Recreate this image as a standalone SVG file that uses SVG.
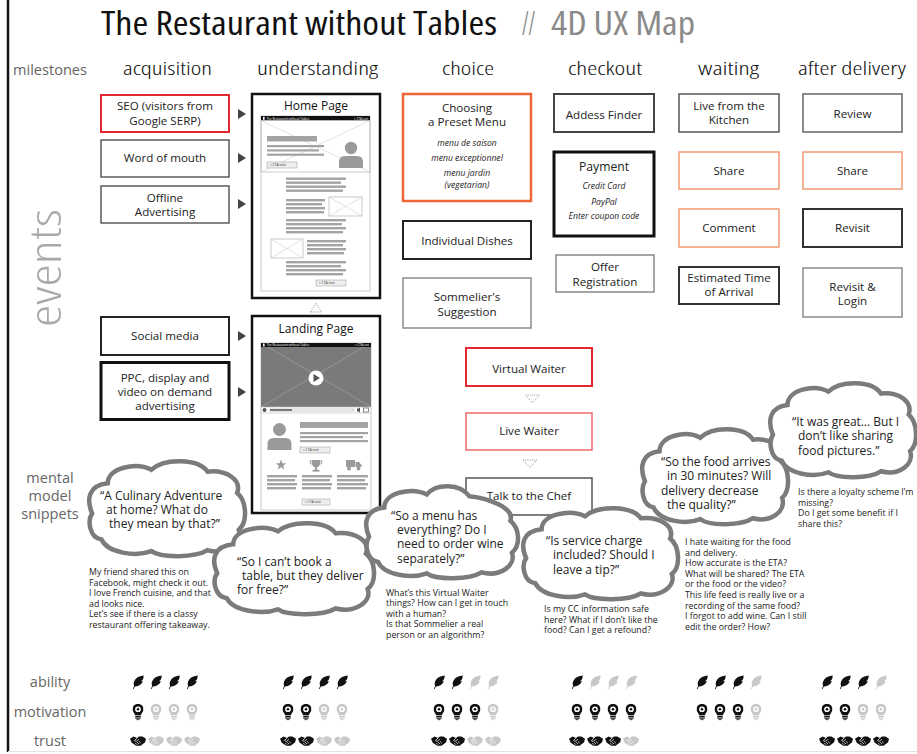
<svg xmlns="http://www.w3.org/2000/svg" width="917" height="754" viewBox="0 0 917 754">
<defs>
<style>
  text { font-family: "Open Sans", "DejaVu Sans", sans-serif; fill: #222; }
  .title { font-size: 32px; fill: #111; font-stretch: 87.5%; }
  .title-sub { font-size: 32px; fill: #8a8a8a; font-stretch: 87.5%; }
  .stage { font-size: 19px; fill: #111; font-weight: 300; font-stretch: 87.5%; }
  .lane { font-size: 14.5px; fill: #666; text-anchor: middle; }
  .events { font-size: 44px; fill: #a9a9a9; text-anchor: middle; font-weight: 300; font-stretch: 75%; }
  .box { fill: #fff; }
  .lbl { font-size: 11.6px; text-anchor: middle; fill: #222; }
  .it { font-size: 8.6px; font-style: italic; text-anchor: middle; fill: #222; }
  .cloud { fill: #fff; stroke: #7b7b7b; stroke-width: 4.5; }
  .think { font-size: 12px; fill: #222; }
  .note { font-size: 8.8px; fill: #222; }
  .go { fill: #444; }
  .dots { fill: none; stroke: #777; stroke-width: 0.8; stroke-dasharray: 1 1.2; }
  .wf-frame { fill: #fff; stroke: #111; stroke-width: 2.5; }
  .wf-title { font-size: 12px; text-anchor: middle; fill: #111; }
  .wf-line { fill: none; stroke: #bdbdbd; stroke-width: 0.8; }
  .wf-x { stroke: #cfcfcf; stroke-width: 0.6; }
  .wf-bar { fill: #a3a3a3; }
  .wf-icon { fill: #9a9a9a; }
  .wf-btn { fill: #eee; stroke: #999; stroke-width: 0.5; }
  .wf-tiny { font-size: 3px; fill: #fff; }
  .wf-cta { font-size: 3.4px; fill: #333; }
  .on { color: #111; }
  .off { color: #c8c8c8; }
</style>
<!-- thought bubble outlines, drawn in a 100x100 box and scaled per bubble -->
<path id="cloud-outline" vector-effect="non-scaling-stroke" d="M8,82 C0,80 -1,62 2,55 C-2,40 0,26 12,24 C12,8 30,2 40,10 C48,-2 70,-2 76,12 C88,10 98,20 95,34 C101,42 102,64 96,72 C99,86 88,98 76,93 C68,101 46,101 40,94 C30,100 12,96 8,82 Z"/>
<path id="cloud-outline-low" vector-effect="non-scaling-stroke" d="M8,82 C0,80 -1,62 2,55 C-2,40 0,26 12,24 C12,8 30,2 40,10 C46,-2 62,-2 68,12 C80,14 98,24 95,38 C101,46 102,64 96,72 C99,86 88,98 76,93 C68,101 46,101 40,94 C30,100 12,96 8,82 Z"/>
<path id="go" d="M0,-5 L8,0 L0,5 Z"/>
<symbol id="ico-feather" viewBox="0 0 14 16">
  <path fill="currentColor" d="M1,16 L2.6,12.6 C0.5,7.5 5,1 13.5,0.5 C13.5,4 12.5,6 10.5,7 L12.6,7.2 C11,11.5 7,13.3 3.4,13 L1.9,16 Z"/>
</symbol>
<symbol id="ico-bulb" viewBox="0 0 12 18">
  <path fill="currentColor" d="M6,0 A6,6 0 0 1 12,6 C12,9 9.5,10.5 9,12.5 L3,12.5 C2.5,10.5 0,9 0,6 A6,6 0 0 1 6,0 Z"/>
  <rect fill="currentColor" x="3" y="13.2" width="6" height="1.3"/>
  <rect fill="currentColor" x="3" y="15" width="6" height="1.3"/>
  <path fill="currentColor" d="M4,16.8 h4 l-1,1.2 h-2 z"/>
  <circle cx="6" cy="6" r="3.1" fill="#fff"/>
  <circle cx="6" cy="6" r="1.4" fill="currentColor"/>
</symbol>
<symbol id="ico-hand" viewBox="0 0 18 11">
  <path fill="currentColor" d="M0,3 L4,0.5 L8,2 L10,0.5 L14,0.5 L18,3 L17,7 L12,10.8 L7,10.8 L2,7.5 Z"/>
  <path d="M8,2 L5,5 L7,6 L10,3.5 M6,7.8 L8,9.8 M8,6.8 L10.2,9 M10,5.8 L12.2,8" stroke="#fff" stroke-width="0.8" fill="none"/>
</symbol>
</defs>

<rect x="0" y="0" width="917" height="754" fill="#fff"/>

<!-- page frame -->
<line x1="8" y1="0" x2="8" y2="752" stroke="#111" stroke-width="2.5"/>
<line x1="8" y1="751.5" x2="917" y2="751.5" stroke="#e2e2e2" stroke-width="1"/>

<!-- heading -->
<g id="heading">
  <text class="title" x="101" y="35" textLength="396" lengthAdjust="spacingAndGlyphs">The Restaurant without Tables</text>
  <text class="title-sub" x="522" y="35" textLength="13" lengthAdjust="spacingAndGlyphs">//</text>
  <text class="title-sub" x="551" y="35" textLength="144" lengthAdjust="spacingAndGlyphs">4D UX Map</text>
</g>

<!-- stage headers -->
<g id="milestones">
  <text x="13" y="74.5" style="font-size:14.5px;fill:#666" textLength="74" lengthAdjust="spacingAndGlyphs">milestones</text>
  <text class="stage" x="123" y="74.5" textLength="89" lengthAdjust="spacingAndGlyphs">acquisition</text>
  <text class="stage" x="257" y="74.5" textLength="121" lengthAdjust="spacingAndGlyphs">understanding</text>
  <text class="stage" x="442" y="74.5" textLength="52" lengthAdjust="spacingAndGlyphs">choice</text>
  <text class="stage" x="568" y="74.5" textLength="74" lengthAdjust="spacingAndGlyphs">checkout</text>
  <text class="stage" x="698" y="74.5" textLength="61" lengthAdjust="spacingAndGlyphs">waiting</text>
  <text class="stage" x="798" y="74.5" textLength="108" lengthAdjust="spacingAndGlyphs">after delivery</text>
</g>

<!-- lane labels -->
<g id="lanes">
  <text class="events" transform="translate(61 268) rotate(-90)" x="0" y="0" textLength="118" lengthAdjust="spacingAndGlyphs">events</text>
  <text class="lane" x="50" y="483">mental</text>
  <text class="lane" x="50" y="501">model</text>
  <text class="lane" x="50" y="519">snippets</text>
  <text class="lane" x="50" y="687">ability</text>
  <text class="lane" x="50" y="717">motivation</text>
  <text class="lane" x="50" y="746">trust</text>
</g>

<!-- acquisition -->
<g id="n-seo">
  <rect class="box" x="101" y="95" width="128" height="37" stroke="#e3262f" stroke-width="2"/>
  <text class="lbl" x="165" y="110">SEO (visitors from</text>
  <text class="lbl" x="165" y="124.5">Google SERP)</text>
</g>
<g id="n-word">
  <rect class="box" x="101" y="140" width="128" height="37" stroke="#444" stroke-width="1.3"/>
  <text class="lbl" x="165" y="162">Word of mouth</text>
</g>
<g id="n-offline">
  <rect class="box" x="101" y="186" width="128" height="37" stroke="#444" stroke-width="1.3"/>
  <text class="lbl" x="165" y="202">Offline</text>
  <text class="lbl" x="165" y="216">Advertising</text>
</g>
<g id="n-social">
  <rect class="box" x="101" y="317" width="128" height="38" stroke="#222" stroke-width="2"/>
  <text class="lbl" x="165" y="340">Social media</text>
</g>
<g id="n-ppc">
  <rect class="box" x="101" y="362.5" width="128" height="57" stroke="#111" stroke-width="3"/>
  <text class="lbl" x="165" y="382">PPC, display and</text>
  <text class="lbl" x="165" y="396">video on demand</text>
  <text class="lbl" x="165" y="410">advertising</text>
</g>

<!-- understanding: home page wireframe -->
<g id="n-home">
  <rect class="wf-frame" x="252" y="94" width="128" height="204"/>
  <text class="wf-title" x="316" y="109.5">Home Page</text>
  <rect class="wf-line" x="261" y="116" width="109" height="175"/>
  <rect x="261" y="116" width="109" height="4.5" fill="#111"/>
  <rect x="263" y="116.8" width="1.6" height="3" fill="#fff"/>
  <text class="wf-tiny" x="266.5" y="119.5">The Restaurant without Tables</text>
  <text class="wf-tiny" x="368" y="119.5" text-anchor="end">» CTA text</text>
  <rect class="wf-line" x="261" y="120.5" width="109" height="51.5"/>
  <line class="wf-x" x1="261" y1="120.5" x2="370" y2="172"/>
  <line class="wf-x" x1="370" y1="120.5" x2="261" y2="172"/>
  <rect class="wf-bar" x="267" y="136" width="50" height="5.5"/>
  <rect class="wf-bar" x="267" y="145" width="57" height="2.2"/>
  <rect class="wf-bar" x="267" y="149.3" width="52" height="2.2"/>
  <rect class="wf-bar" x="267" y="153.6" width="57" height="2.2"/>
  <circle class="wf-icon" cx="351" cy="148" r="6.2"/>
  <path class="wf-icon" d="M339,168 L339,162 Q339,156 345,156 L357,156 Q363,156 363,162 L363,168 Z"/>
  <rect class="wf-btn" x="267" y="162" width="30" height="6"/>
  <text class="wf-cta" x="270" y="166.2">» CTA text</text>
  <rect class="wf-bar" x="286" y="177.5" width="60" height="2.4"/>
  <rect class="wf-bar" x="286" y="181.5" width="55" height="2.4"/>
  <rect class="wf-bar" x="286" y="185.5" width="60" height="2.4"/>
  <rect class="wf-bar" x="286" y="189.5" width="57" height="2.4"/>
  <rect class="wf-bar" x="286" y="199" width="39" height="2.4"/>
  <rect class="wf-bar" x="286" y="203" width="36" height="2.4"/>
  <rect class="wf-bar" x="286" y="207" width="39" height="2.4"/>
  <rect class="wf-bar" x="286" y="211" width="38" height="2.4"/>
  <rect class="wf-line" x="329" y="197" width="33" height="19"/>
  <line class="wf-x" x1="329" y1="197" x2="362" y2="216"/>
  <line class="wf-x" x1="362" y1="197" x2="329" y2="216"/>
  <rect class="wf-bar" x="286" y="219" width="60" height="2.4"/>
  <rect class="wf-bar" x="286" y="223" width="56" height="2.4"/>
  <rect class="wf-bar" x="286" y="227" width="60" height="2.4"/>
  <rect class="wf-bar" x="286" y="231" width="57" height="2.4"/>
  <rect class="wf-line" x="271" y="239" width="32" height="19"/>
  <line class="wf-x" x1="271" y1="239" x2="303" y2="258"/>
  <line class="wf-x" x1="303" y1="239" x2="271" y2="258"/>
  <rect class="wf-bar" x="307" y="240" width="39" height="2.4"/>
  <rect class="wf-bar" x="307" y="244" width="36" height="2.4"/>
  <rect class="wf-bar" x="307" y="248" width="39" height="2.4"/>
  <rect class="wf-bar" x="307" y="252" width="37" height="2.4"/>
  <rect class="wf-bar" x="286" y="261" width="60" height="2.4"/>
  <rect class="wf-bar" x="286" y="265" width="55" height="2.4"/>
  <rect class="wf-bar" x="286" y="269" width="60" height="2.4"/>
  <rect class="wf-bar" x="286" y="273" width="57" height="2.4"/>
  <rect class="wf-btn" x="316" y="280" width="30" height="6"/>
  <text class="wf-cta" x="319" y="284.2">» CTA text</text>
</g>

<!-- understanding: landing page wireframe -->
<g id="n-landing">
  <rect class="wf-frame" x="252" y="316" width="128" height="197"/>
  <text class="wf-title" x="316" y="333">Landing Page</text>
  <rect class="wf-line" x="261" y="343" width="110" height="167"/>
  <rect x="261" y="343" width="110" height="64" fill="#7a7a7a"/>
  <line x1="261" y1="343" x2="371" y2="407" stroke="#a8a8a8" stroke-width="0.6"/>
  <line x1="371" y1="343" x2="261" y2="407" stroke="#a8a8a8" stroke-width="0.6"/>
  <rect x="261" y="343" width="110" height="4" fill="#111"/>
  <rect x="263" y="343.5" width="1.6" height="3" fill="#fff"/>
  <text class="wf-tiny" x="266.5" y="346.4">The Restaurant without Tables</text>
  <text class="wf-tiny" x="369" y="346.4" text-anchor="end">» CTA text</text>
  <circle cx="316" cy="378" r="7.5" fill="#fff"/>
  <path d="M313.5,374 L320,378 L313.5,382 Z" fill="#555"/>
  <rect x="261" y="407" width="110" height="6" fill="#fff" stroke="#bdbdbd" stroke-width="0.6"/>
  <circle cx="264.5" cy="410" r="2" fill="#555"/>
  <rect x="270" y="409" width="84" height="2" fill="none" stroke="#999" stroke-width="0.5"/>
  <rect x="270" y="409" width="22" height="2" fill="#777"/>
  <path d="M357,408.5 h1.5 l1.5,-1 v5 l-1.5,-1 h-1.5 z" fill="#555"/>
  <rect x="363.5" y="408" width="5" height="4" fill="none" stroke="#555" stroke-width="0.7"/>
  <circle class="wf-icon" cx="279.5" cy="429.5" r="6.5"/>
  <path class="wf-icon" d="M267.5,450 L267.5,444 Q267.5,438 273.5,438 L285.5,438 Q291.5,438 291.5,444 L291.5,450 Z"/>
  <rect class="wf-bar" x="300" y="422" width="68" height="6"/>
  <rect class="wf-bar" x="300" y="432" width="68" height="2.2"/>
  <rect class="wf-bar" x="300" y="436" width="63" height="2.2"/>
  <rect class="wf-bar" x="300" y="440" width="68" height="2.2"/>
  <rect class="wf-btn" x="300" y="447" width="30" height="6"/>
  <text class="wf-cta" x="303" y="451.2">» CTA text</text>
  <polygon class="wf-icon" points="281,459.5 282.35,463.14 286.23,463.3 283.19,465.71 284.23,469.45 281,467.3 277.77,469.45 278.81,465.71 275.77,463.3 279.65,463.14"/>
  <path class="wf-icon" d="M312,460 h8 v3 q0,4 -4,5 q-4,-1 -4,-5 z"/>
  <path d="M312,461 h-2 q0,3 2.5,3.5 M320,461 h2 q0,3 -2.5,3.5" fill="none" stroke="#9a9a9a" stroke-width="1"/>
  <rect class="wf-icon" x="315" y="467.5" width="2" height="2.5"/>
  <rect class="wf-icon" x="312.5" y="469.8" width="7" height="1.8"/>
  <rect class="wf-icon" x="346" y="460" width="9" height="7"/>
  <path class="wf-icon" d="M355.5,462 h3.5 l2.5,3 v2 h-6 z"/>
  <circle class="wf-icon" cx="349" cy="468.5" r="1.9"/>
  <circle class="wf-icon" cx="358.5" cy="468.5" r="1.9"/>
  <rect class="wf-bar" x="267" y="475" width="30" height="2.4"/>
  <rect class="wf-bar" x="267" y="479" width="28" height="2.4"/>
  <rect class="wf-bar" x="267" y="483" width="30" height="2.4"/>
  <rect class="wf-bar" x="267" y="487" width="29" height="2.4"/>
  <rect class="wf-bar" x="302" y="475" width="30" height="2.4"/>
  <rect class="wf-bar" x="302" y="479" width="28" height="2.4"/>
  <rect class="wf-bar" x="302" y="483" width="30" height="2.4"/>
  <rect class="wf-bar" x="302" y="487" width="29" height="2.4"/>
  <rect class="wf-bar" x="337" y="475" width="31" height="2.4"/>
  <rect class="wf-bar" x="337" y="479" width="28" height="2.4"/>
  <rect class="wf-bar" x="337" y="483" width="31" height="2.4"/>
  <rect class="wf-bar" x="337" y="487" width="29" height="2.4"/>
  <rect class="wf-btn" x="302" y="499" width="28" height="6"/>
  <text class="wf-cta" x="305" y="503.2">» CTA text</text>
</g>

<!-- choice -->
<g id="n-preset">
  <rect class="box" x="403" y="94" width="128" height="107" stroke="#ef6533" stroke-width="2.5"/>
  <text class="lbl" x="467" y="112">Choosing</text>
  <text class="lbl" x="467" y="125.5">a Preset Menu</text>
  <text class="it" x="467" y="146">menu de saison</text>
  <text class="it" x="467" y="161">menu exceptionnel</text>
  <text class="it" x="467" y="176">menu jardin</text>
  <text class="it" x="467" y="187.5">(vegetarian)</text>
</g>
<g id="n-dishes">
  <rect class="box" x="403" y="221" width="128" height="38" stroke="#222" stroke-width="2"/>
  <text class="lbl" x="467" y="244.5">Individual Dishes</text>
</g>
<g id="n-sommelier">
  <rect class="box" x="403" y="278" width="128" height="50" stroke="#8a8a8a" stroke-width="1.5"/>
  <text class="lbl" x="467" y="301">Sommelier's</text>
  <text class="lbl" x="467" y="315.5">Suggestion</text>
</g>
<g id="n-virtual">
  <rect class="box" x="466" y="348" width="126" height="38" stroke="#e3262f" stroke-width="2"/>
  <text class="lbl" x="529" y="373">Virtual Waiter</text>
</g>
<g id="n-live">
  <rect class="box" x="466" y="413" width="126" height="37" stroke="#ef6b6b" stroke-width="1.5"/>
  <text class="lbl" x="529" y="435">Live Waiter</text>
</g>
<g id="n-chef">
  <rect class="box" x="466" y="478" width="126" height="37" stroke="#555" stroke-width="1.5"/>
  <text class="lbl" x="529" y="500">Talk to the Chef</text>
</g>

<!-- checkout -->
<g id="n-address">
  <rect class="box" x="554" y="94" width="100" height="38" stroke="#444" stroke-width="2"/>
  <text class="lbl" x="604" y="118.5">Addess Finder</text>
</g>
<g id="n-payment">
  <rect class="box" x="554" y="152" width="100" height="84" stroke="#111" stroke-width="3"/>
  <text class="lbl" x="604" y="170.5" style="font-size:12.2px">Payment</text>
  <text class="it" x="604" y="188.5">Credit Card</text>
  <text class="it" x="604" y="204.5">PayPal</text>
  <text class="it" x="604" y="218.5">Enter coupon code</text>
</g>
<g id="n-offer">
  <rect class="box" x="556" y="255" width="98" height="37" stroke="#777" stroke-width="1.3"/>
  <text class="lbl" x="605" y="271">Offer</text>
  <text class="lbl" x="605" y="285.5">Registration</text>
</g>

<!-- waiting -->
<g id="n-kitchen">
  <rect class="box" x="679" y="94" width="100" height="38" stroke="#555" stroke-width="1.5"/>
  <text class="lbl" x="729" y="110">Live from the</text>
  <text class="lbl" x="729" y="124">Kitchen</text>
</g>
<g id="n-share-waiting">
  <rect class="box" x="679" y="152" width="100" height="37" stroke="#f39a74" stroke-width="1.5"/>
  <text class="lbl" x="729" y="174.5">Share</text>
</g>
<g id="n-comment">
  <rect class="box" x="679" y="209" width="100" height="38" stroke="#f39a74" stroke-width="1.5"/>
  <text class="lbl" x="729" y="231.7">Comment</text>
</g>
<g id="n-eta">
  <rect class="box" x="679" y="267" width="100" height="37" stroke="#333" stroke-width="2"/>
  <text class="lbl" x="729" y="282">Estimated Time</text>
  <text class="lbl" x="729" y="296">of Arrival</text>
</g>

<!-- after delivery -->
<g id="n-review">
  <rect class="box" x="803" y="94" width="99" height="38" stroke="#666" stroke-width="1.5"/>
  <text class="lbl" x="852.5" y="117.7">Review</text>
</g>
<g id="n-share-after">
  <rect class="box" x="803" y="152" width="99" height="37" stroke="#f39a74" stroke-width="1.5"/>
  <text class="lbl" x="852.5" y="174.5">Share</text>
</g>
<g id="n-revisit">
  <rect class="box" x="803" y="209" width="99" height="38" stroke="#333" stroke-width="2"/>
  <text class="lbl" x="852.5" y="231.7">Revisit</text>
</g>
<g id="n-revisit-login">
  <rect class="box" x="803" y="268" width="99" height="49" stroke="#8a8a8a" stroke-width="1.5"/>
  <text class="lbl" x="852.5" y="290.5">Revisit &amp;</text>
  <text class="lbl" x="852.5" y="304.5">Login</text>
</g>

<!-- connectors -->
<g id="connectors">
  <use href="#go" class="go" x="238" y="114"/>
  <use href="#go" class="go" x="238" y="158"/>
  <use href="#go" class="go" x="238" y="204"/>
  <use href="#go" class="go" x="238" y="336"/>
  <use href="#go" class="go" x="238" y="392"/>
  <path class="dots" d="M310.5,312 L316,303 L321.5,312 Z"/>
  <path class="dots" d="M525.5,395 L539.5,395 L532.5,403 Z"/>
  <path class="dots" d="M523,460 L537,460 L530,467.5 Z"/>
</g>

<!-- mental model snippets -->
<g id="c-culinary">
  <use href="#cloud-outline" class="cloud" transform="translate(89 460) scale(1.56 0.97)"/>
  <text class="think" x="100" y="499.5">“A Culinary Adventure</text>
  <text class="think" x="106" y="513.9">at home? What do</text>
  <text class="think" x="109" y="528.3">they mean by that?”</text>
</g>
<g id="c-book">
  <use href="#cloud-outline" class="cloud" transform="translate(214 522) scale(1.6 0.93)"/>
  <text class="think" x="237" y="565.5">“So I can’t book a</text>
  <text class="think" x="242" y="579.9">table, but they deliver</text>
  <text class="think" x="237" y="594.3">for free?”</text>
</g>
<g id="c-menu">
  <use href="#cloud-outline-low" class="cloud" transform="translate(366 485) scale(1.52 0.94)"/>
  <text class="think" x="391" y="519.5">“So a menu has</text>
  <text class="think" x="397" y="533.9">everything? Do I</text>
  <text class="think" x="397" y="548.3">need to order wine</text>
  <text class="think" x="397" y="562.7">separately?”</text>
</g>
<g id="c-tip">
  <use href="#cloud-outline" class="cloud" transform="translate(523 507) scale(1.55 0.93)"/>
  <text class="think" x="546" y="545">“Is service charge</text>
  <text class="think" x="553" y="559.4">included? Should I</text>
  <text class="think" x="553" y="573.8">leave a tip?”</text>
</g>
<g id="c-arrival">
  <use href="#cloud-outline" class="cloud" transform="translate(642 428) scale(1.46 0.97)"/>
  <text class="think" x="661" y="466">“So the food arrives</text>
  <text class="think" x="667" y="480.4">in 30 minutes? Will</text>
  <text class="think" x="661" y="494.8">delivery decrease</text>
  <text class="think" x="667" y="509.2">the quality?”</text>
</g>
<g id="c-great">
  <use href="#cloud-outline" class="cloud" transform="translate(770 382) scale(1.46 0.96)"/>
  <text class="think" x="792" y="426">“It was great… But I</text>
  <text class="think" x="798" y="440.4">don’t like sharing</text>
  <text class="think" x="798" y="454.8">food pictures.”</text>
</g>

<!-- notes under the snippets -->
<g id="note-acquisition">
  <text class="note" x="89" y="575">My friend shared this on</text>
  <text class="note" x="89" y="585.6">Facebook, might check it out.</text>
  <text class="note" x="89" y="596.2">I love French cuisine, and that</text>
  <text class="note" x="89" y="606.8">ad looks nice.</text>
  <text class="note" x="89" y="617.4">Let’s see if there is a classy</text>
  <text class="note" x="89" y="628">restaurant offering takeaway.</text>
</g>
<g id="note-choice">
  <text class="note" x="386" y="595.5">What’s this Virtual Waiter</text>
  <text class="note" x="386" y="606.1">things? How can I get in touch</text>
  <text class="note" x="386" y="616.7">with a human?</text>
  <text class="note" x="386" y="627.3">Is that Sommelier a real</text>
  <text class="note" x="386" y="637.9">person or an algorithm?</text>
</g>
<g id="note-checkout">
  <text class="note" x="544" y="612">Is my CC information safe</text>
  <text class="note" x="544" y="622.6">here? What if I don’t like the</text>
  <text class="note" x="544" y="633.2">food? Can I get a refound?</text>
</g>
<g id="note-waiting">
  <text class="note" x="685" y="545">I hate waiting for the food</text>
  <text class="note" x="685" y="555.6">and delivery.</text>
  <text class="note" x="685" y="566.2">How accurate is the ETA?</text>
  <text class="note" x="685" y="576.8">What will be shared? The ETA</text>
  <text class="note" x="685" y="587.4">or the food or the video?</text>
  <text class="note" x="685" y="598">This life feed is really live or a</text>
  <text class="note" x="685" y="608.6">recording of the same food?</text>
  <text class="note" x="685" y="619.2">I forgot to add wine. Can I still</text>
  <text class="note" x="685" y="629.8">edit the order? How?</text>
</g>
<g id="note-after">
  <text class="note" x="798" y="495">Is there a loyalty scheme I’m</text>
  <text class="note" x="798" y="505.6">missing?</text>
  <text class="note" x="798" y="516.2">Do I get some benefit if I</text>
  <text class="note" x="798" y="526.8">share this?</text>
</g>

<!-- ability / motivation / trust ratings -->
<g id="ratings-ability">
  <use href="#ico-feather" class="on" x="131.5" y="675" width="13" height="14"/>
  <use href="#ico-feather" class="on" x="149.5" y="675" width="13" height="14"/>
  <use href="#ico-feather" class="on" x="167.5" y="675" width="13" height="14"/>
  <use href="#ico-feather" class="on" x="185.5" y="675" width="13" height="14"/>
  <use href="#ico-feather" class="on" x="281.5" y="675" width="13" height="14"/>
  <use href="#ico-feather" class="on" x="299.5" y="675" width="13" height="14"/>
  <use href="#ico-feather" class="on" x="317.5" y="675" width="13" height="14"/>
  <use href="#ico-feather" class="on" x="335.5" y="675" width="13" height="14"/>
  <use href="#ico-feather" class="on" x="432.5" y="675" width="13" height="14"/>
  <use href="#ico-feather" class="on" x="450.5" y="675" width="13" height="14"/>
  <use href="#ico-feather" class="off" x="468.5" y="675" width="13" height="14"/>
  <use href="#ico-feather" class="off" x="486.5" y="675" width="13" height="14"/>
  <use href="#ico-feather" class="on" x="570.5" y="675" width="13" height="14"/>
  <use href="#ico-feather" class="off" x="588.5" y="675" width="13" height="14"/>
  <use href="#ico-feather" class="off" x="606.5" y="675" width="13" height="14"/>
  <use href="#ico-feather" class="off" x="624.5" y="675" width="13" height="14"/>
  <use href="#ico-feather" class="on" x="695.5" y="675" width="13" height="14"/>
  <use href="#ico-feather" class="on" x="713.5" y="675" width="13" height="14"/>
  <use href="#ico-feather" class="on" x="731.5" y="675" width="13" height="14"/>
  <use href="#ico-feather" class="off" x="749.5" y="675" width="13" height="14"/>
  <use href="#ico-feather" class="on" x="820.5" y="675" width="13" height="14"/>
  <use href="#ico-feather" class="on" x="838.5" y="675" width="13" height="14"/>
  <use href="#ico-feather" class="on" x="856.5" y="675" width="13" height="14"/>
  <use href="#ico-feather" class="off" x="874.5" y="675" width="13" height="14"/>
</g>
<g id="ratings-motivation">
  <use href="#ico-bulb" class="on" x="132.5" y="703.5" width="11" height="17"/>
  <use href="#ico-bulb" class="off" x="150.5" y="703.5" width="11" height="17"/>
  <use href="#ico-bulb" class="off" x="168.5" y="703.5" width="11" height="17"/>
  <use href="#ico-bulb" class="off" x="186.5" y="703.5" width="11" height="17"/>
  <use href="#ico-bulb" class="on" x="282.5" y="703.5" width="11" height="17"/>
  <use href="#ico-bulb" class="on" x="300.5" y="703.5" width="11" height="17"/>
  <use href="#ico-bulb" class="off" x="318.5" y="703.5" width="11" height="17"/>
  <use href="#ico-bulb" class="off" x="336.5" y="703.5" width="11" height="17"/>
  <use href="#ico-bulb" class="on" x="433.5" y="703.5" width="11" height="17"/>
  <use href="#ico-bulb" class="on" x="451.5" y="703.5" width="11" height="17"/>
  <use href="#ico-bulb" class="on" x="469.5" y="703.5" width="11" height="17"/>
  <use href="#ico-bulb" class="off" x="487.5" y="703.5" width="11" height="17"/>
  <use href="#ico-bulb" class="on" x="571.5" y="703.5" width="11" height="17"/>
  <use href="#ico-bulb" class="on" x="589.5" y="703.5" width="11" height="17"/>
  <use href="#ico-bulb" class="on" x="607.5" y="703.5" width="11" height="17"/>
  <use href="#ico-bulb" class="on" x="625.5" y="703.5" width="11" height="17"/>
  <use href="#ico-bulb" class="on" x="696.5" y="703.5" width="11" height="17"/>
  <use href="#ico-bulb" class="on" x="714.5" y="703.5" width="11" height="17"/>
  <use href="#ico-bulb" class="on" x="732.5" y="703.5" width="11" height="17"/>
  <use href="#ico-bulb" class="off" x="750.5" y="703.5" width="11" height="17"/>
  <use href="#ico-bulb" class="on" x="821.5" y="703.5" width="11" height="17"/>
  <use href="#ico-bulb" class="on" x="839.5" y="703.5" width="11" height="17"/>
  <use href="#ico-bulb" class="off" x="857.5" y="703.5" width="11" height="17"/>
  <use href="#ico-bulb" class="off" x="875.5" y="703.5" width="11" height="17"/>
</g>
<g id="ratings-trust">
  <use href="#ico-hand" class="on" x="130" y="736" width="16" height="10"/>
  <use href="#ico-hand" class="off" x="148" y="736" width="16" height="10"/>
  <use href="#ico-hand" class="off" x="166" y="736" width="16" height="10"/>
  <use href="#ico-hand" class="off" x="184" y="736" width="16" height="10"/>
  <use href="#ico-hand" class="on" x="280" y="736" width="16" height="10"/>
  <use href="#ico-hand" class="on" x="298" y="736" width="16" height="10"/>
  <use href="#ico-hand" class="off" x="316" y="736" width="16" height="10"/>
  <use href="#ico-hand" class="off" x="334" y="736" width="16" height="10"/>
  <use href="#ico-hand" class="on" x="431" y="736" width="16" height="10"/>
  <use href="#ico-hand" class="on" x="449" y="736" width="16" height="10"/>
  <use href="#ico-hand" class="off" x="467" y="736" width="16" height="10"/>
  <use href="#ico-hand" class="off" x="485" y="736" width="16" height="10"/>
  <use href="#ico-hand" class="on" x="569" y="736" width="16" height="10"/>
  <use href="#ico-hand" class="on" x="587" y="736" width="16" height="10"/>
  <use href="#ico-hand" class="on" x="605" y="736" width="16" height="10"/>
  <use href="#ico-hand" class="off" x="623" y="736" width="16" height="10"/>
  <use href="#ico-hand" class="on" x="819" y="736" width="16" height="10"/>
  <use href="#ico-hand" class="on" x="837" y="736" width="16" height="10"/>
  <use href="#ico-hand" class="on" x="855" y="736" width="16" height="10"/>
  <use href="#ico-hand" class="on" x="873" y="736" width="16" height="10"/>
</g>
</svg>
